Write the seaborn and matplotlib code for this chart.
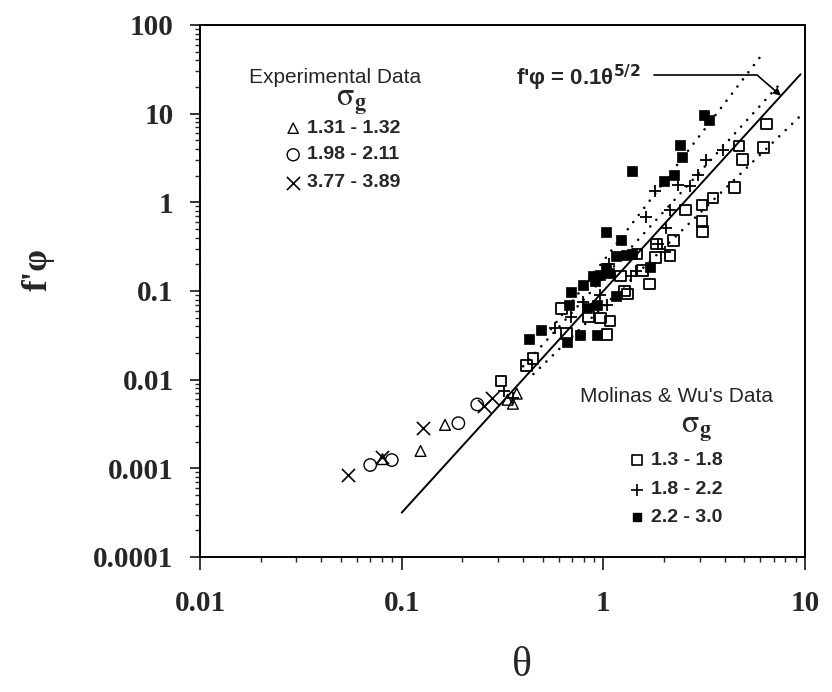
import numpy as np
import matplotlib
matplotlib.use("Agg")
import matplotlib.pyplot as plt
import seaborn as sns
from matplotlib.ticker import FixedLocator, LogLocator, NullFormatter

# ---- Experimental data, grouped by geometric standard deviation sigma_g ----
exp_tri_theta = [0.0803, 0.124, 0.164, 0.335, 0.356, 0.372]
exp_tri_phi = [0.00127, 0.00157, 0.00309, 0.00593, 0.00535, 0.00695]
exp_circ_theta = [0.0698, 0.0893, 0.191, 0.237]
exp_circ_phi = [0.00109, 0.00124, 0.00323, 0.00525]
exp_x_theta = [0.0541, 0.0803, 0.127, 0.257, 0.282]
exp_x_phi = [0.00085, 0.00133, 0.00288, 0.00503, 0.00622]

# ---- Molinas & Wu's data ----
mw_open_theta = [6.46, 4.71, 6.23, 4.90, 4.48, 3.49, 3.09, 2.56, 3.09, 3.10,
                 1.84, 2.22, 1.81, 2.14, 1.47, 1.56, 1.69, 1.22, 1.27, 1.32,
                 0.618, 0.843, 0.966, 1.08, 1.04, 0.657, 0.447, 0.415, 0.311]
mw_open_phi = [7.62, 4.31, 4.16, 3.05, 1.46, 1.12, 0.933, 0.816, 0.607, 0.468,
               0.340, 0.373, 0.240, 0.252, 0.261, 0.169, 0.120, 0.148, 0.100, 0.092,
               0.0637, 0.0516, 0.0497, 0.0457, 0.0323, 0.0333, 0.0172, 0.0144, 0.00968]

mw_plus_theta = [3.91, 3.24, 2.96, 2.35, 1.81, 2.69, 1.62, 2.13, 2.05, 1.87,
                 2.02, 1.07, 0.962, 0.794, 1.04, 0.695, 0.573, 1.37, 1.45,
                 0.323, 0.356]
mw_plus_phi = [3.92, 3.01, 2.03, 1.56, 1.33, 1.51, 0.691, 0.826, 0.518, 0.340,
               0.275, 0.199, 0.0911, 0.076, 0.0704, 0.0513, 0.0378, 0.148, 0.169,
               0.00749, 0.00626]

mw_fill_theta = [3.16, 3.35, 2.39, 2.45, 2.23, 2.00, 1.39, 1.03, 1.23, 1.15,
                 1.29, 1.39, 0.96, 1.07, 0.692, 0.792, 0.906, 0.679, 0.826, 0.927,
                 1.16, 1.71, 0.429, 0.491, 0.658, 0.767, 0.931, 1.03, 0.887]
mw_fill_phi = [9.7, 8.5, 4.40, 3.26, 2.05, 1.76, 2.27, 0.457, 0.372, 0.245,
               0.256, 0.260, 0.153, 0.160, 0.0983, 0.117, 0.128, 0.0695, 0.0642, 0.0702,
               0.0875, 0.185, 0.0289, 0.036, 0.0268, 0.0321, 0.0322, 0.182, 0.146]

# ---- Power-law lines: f'phi = coef * theta ** expo, drawn over theta_span ----
main_coef, main_expo, main_span = 0.1, 2.5, [0.1, 9.5]
upper_coef, upper_expo, upper_span = 0.218, 2.96, [0.55, 6.27]
middle_coef, middle_expo, middle_span = 0.14, 2.5, [0.4, 7.45]
lower_coef, lower_expo, lower_span = 0.067, 2.2, [0.45, 10.0]

x_ticks = [0.01, 0.1, 1, 10]
x_tick_labels = ["0.01", "0.1", "1", "10"]
y_ticks = [1e-4, 1e-3, 1e-2, 1e-1, 1, 10, 100]
y_tick_labels = ["0.0001", "0.001", "0.01", "0.1", "1", "10", "100"]

exp_title = "Experimental Data"
exp_labels = ["1.31 - 1.32", "1.98 - 2.11", "3.77 - 3.89"]
mw_title = "Molinas & Wu's Data"
mw_labels = ["1.3 - 1.8", "1.8 - 2.2", "2.2 - 3.0"]
sigma_g = r"$\mathrm{\sigma}_{\mathbf{g}}$"

sns.set_style("ticks")
plt.rcParams["font.family"] = ["Liberation Serif", "DejaVu Serif"]
plt.rcParams["mathtext.fontset"] = "dejavusans"

fig = plt.figure(figsize=(8.32, 6.92), dpi=100)
ax = fig.add_axes([0.2404, 0.1951, 0.7272, 0.7688])
ax.set_xscale("log")
ax.set_yscale("log")
ax.set_xlim(0.01, 10)
ax.set_ylim(1e-4, 100)

# fitted lines
def power_line(coef, expo, span, **kw):
    t = np.array(span, dtype=float)
    sns.lineplot(x=t, y=coef * t ** expo, ax=ax, color="black", legend=False, **kw)

power_line(main_coef, main_expo, main_span, linewidth=1.4)
dot_kw = dict(linewidth=1.9, linestyle=(0, (0.01, 3.4)), dash_capstyle="round")
for c, e, s in [(upper_coef, upper_expo, upper_span),
                (middle_coef, middle_expo, middle_span),
                (lower_coef, lower_expo, lower_span)]:
    power_line(c, e, s, **dot_kw)

# scatter groups
def pts(theta, phi, **kw):
    sns.scatterplot(x=theta, y=phi, ax=ax, legend=False, zorder=3, **kw)

pts(mw_open_theta, mw_open_phi, marker="s", s=58, facecolors="none",
    edgecolor="black", linewidth=1.3)
pts(mw_plus_theta, mw_plus_phi, marker="+", s=70, color="black", linewidth=1.3)
pts(mw_fill_theta, mw_fill_phi, marker="s", s=46, color="black",
    edgecolor="black", linewidth=0.5)
pts(exp_tri_theta, exp_tri_phi, marker="^", s=60, facecolors="none",
    edgecolor="black", linewidth=1.0)
pts(exp_circ_theta, exp_circ_phi, marker="o", s=80, facecolors="none",
    edgecolor="black", linewidth=1.0)
pts(exp_x_theta, exp_x_phi, marker="x", s=90, color="black", linewidth=1.2)

# equation label with leader arrow onto the main line
eq_theta, corner_theta, tip_theta, leader_phi = 0.367, 5.81, 7.6, 27.0
ax.text(eq_theta, 25.5, "f'φ = 0.1θ$^{\\mathbf{5/2}}$", ha="left", va="center",
        fontsize=16, fontweight="bold", family=["Liberation Sans", "DejaVu Sans"])
ax.plot([1.78, corner_theta], [leader_phi, leader_phi], color="black", linewidth=1.2)
ax.annotate("", xy=(tip_theta, main_coef * tip_theta ** main_expo),
            xytext=(corner_theta, leader_phi),
            arrowprops=dict(arrowstyle="-|>", color="black", linewidth=1.2,
                            mutation_scale=10, shrinkA=0, shrinkB=0))

# legend blocks
sans = ["Liberation Sans", "DejaVu Sans"]
T = ax.transAxes

ax.text(0.223, 0.902, exp_title, transform=T, ha="center", va="center",
        fontsize=15, family=sans)
ax.text(0.250, 0.855, sigma_g, transform=T, ha="center", va="center", fontsize=23,
        math_fontfamily="stix")
exp_keys = [dict(marker="^", s=55, facecolors="none", edgecolors="black", linewidths=1.0),
            dict(marker="o", s=75, facecolors="none", edgecolors="black", linewidths=1.0),
            dict(marker="x", s=90, c="black", linewidths=1.2)]
for fy, lab, kw in zip([0.806, 0.756, 0.703], exp_labels, exp_keys):
    ax.scatter([0.154], [fy], transform=T, clip_on=False, **kw)
    ax.text(0.177, fy, lab, transform=T, ha="left", va="center", fontsize=14,
            fontweight="bold", family=sans)

ax.text(0.788, 0.301, mw_title, transform=T, ha="center", va="center",
        fontsize=15, family=sans)
ax.text(0.821, 0.240, sigma_g, transform=T, ha="center", va="center", fontsize=23,
        math_fontfamily="stix")
mw_keys = [dict(marker="s", s=50, facecolors="none", edgecolors="black", linewidths=1.2),
           dict(marker="+", s=65, c="black", linewidths=1.2),
           dict(marker="s", s=40, c="black")]
for fy, lab, kw in zip([0.182, 0.126, 0.075], mw_labels, mw_keys):
    ax.scatter([0.722], [fy], transform=T, clip_on=False, **kw)
    ax.text(0.745, fy, lab, transform=T, ha="left", va="center", fontsize=14,
            fontweight="bold", family=sans)

# axes, ticks and labels
ax.xaxis.set_major_locator(FixedLocator(x_ticks))
ax.yaxis.set_major_locator(FixedLocator(y_ticks))
ax.set_xticklabels(x_tick_labels)
ax.set_yticklabels(y_tick_labels)
for axis in (ax.xaxis, ax.yaxis):
    axis.set_minor_locator(LogLocator(base=10, subs=np.arange(2, 10)))
    axis.set_minor_formatter(NullFormatter())
ax.tick_params(axis="x", which="major", direction="out", length=9, width=1.3,
               pad=15, labelsize=21)
ax.tick_params(axis="y", which="major", direction="out", length=7, width=1.3,
               pad=12, labelsize=21)
ax.tick_params(which="minor", direction="out", length=3.5, width=1.0)
ax.tick_params(which="both", top=False, right=False)
for lbl in ax.get_xticklabels() + ax.get_yticklabels():
    lbl.set_fontweight("bold")
for sp in ax.spines.values():
    sp.set_linewidth(1.4)
    sp.set_color("black")

ax.set_xlabel("θ", fontsize=30)
ax.xaxis.set_label_coords(0.532, -0.168)
ax.set_ylabel("f'φ", fontsize=25, fontweight="bold")
ax.yaxis.set_label_coords(-0.24, 0.54)

fig.savefig("out.png", dpi=100)
